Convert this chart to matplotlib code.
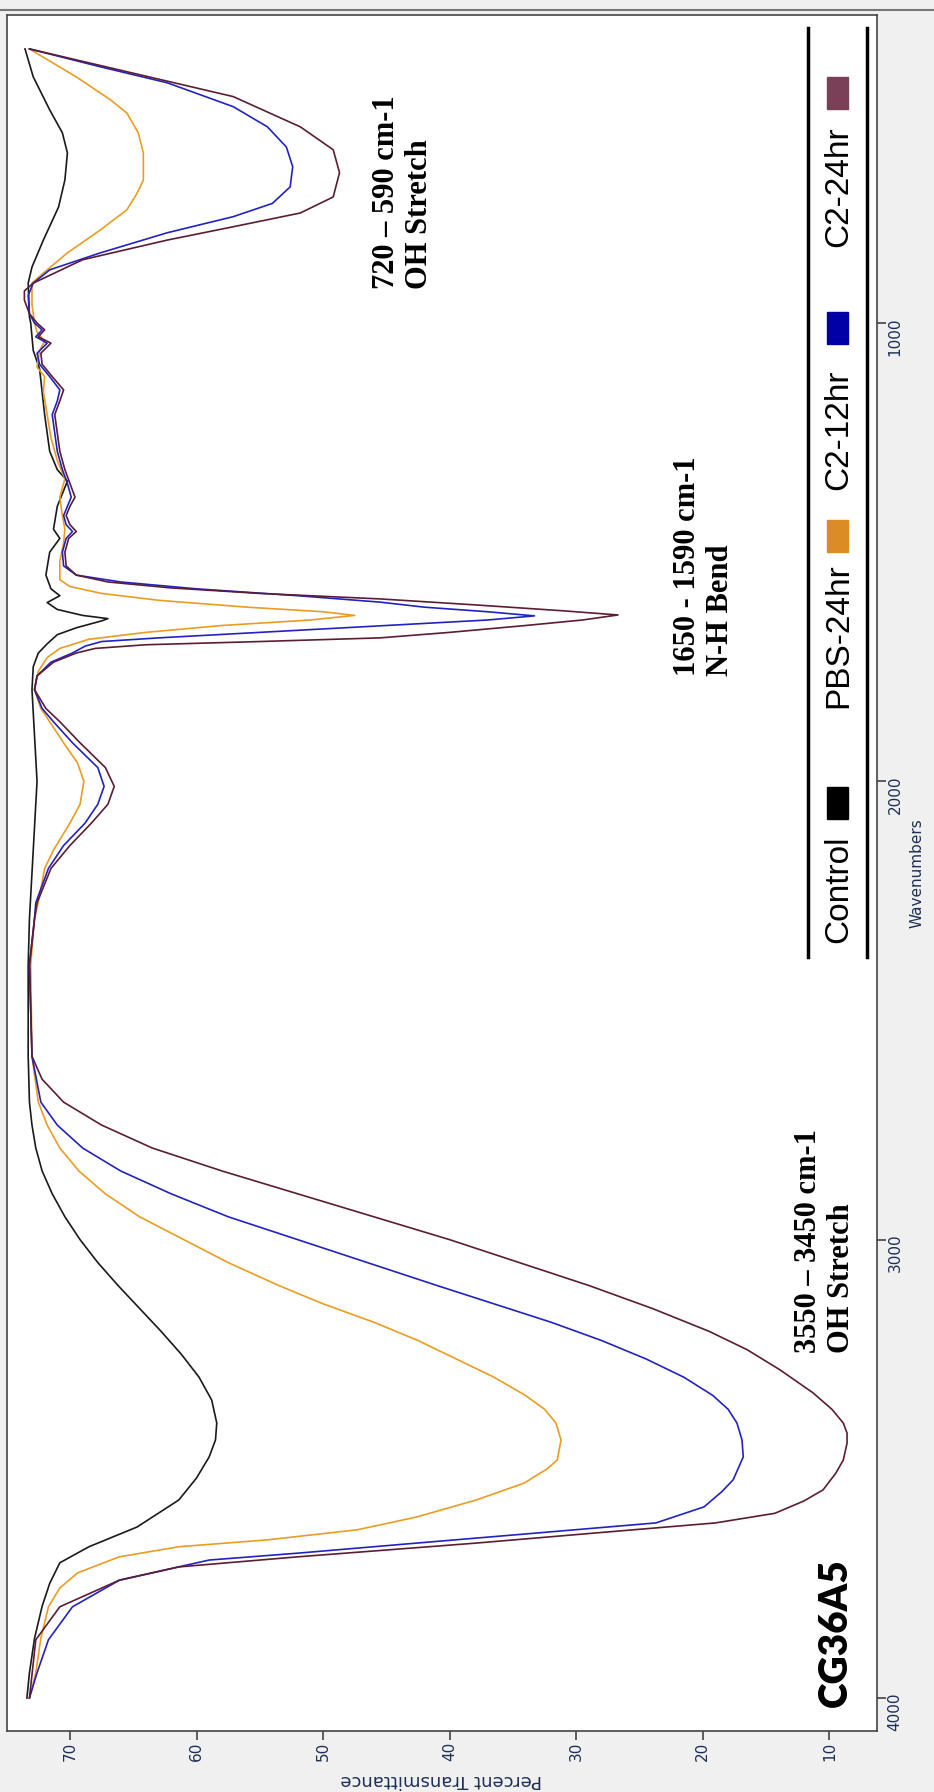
import matplotlib.pyplot as plt
from matplotlib.patches import Rectangle
from matplotlib.lines import Line2D

# Espectros FTIR (numero de onda, % transmitancia)
ctrl_wn = [4000, 3945, 3870, 3800, 3750, 3705, 3670, 3627, 3568, 3520, 3474, 3437, 3400, 3350, 3300,
           3250, 3200, 3150, 3100, 3050, 3000, 2950, 2900, 2850, 2800, 2750, 2700, 2600, 2400, 2300,
           2200, 2100, 2000, 1900, 1800, 1750, 1720, 1700, 1680, 1665, 1650, 1645, 1638, 1625, 1610,
           1595, 1580, 1550, 1500, 1470, 1450, 1400, 1345, 1320, 1280, 1200, 1100, 1060, 1000, 987,
           913, 878, 819, 747, 688, 629, 585, 535, 463, 402]
ctrl_t = [73.4, 73.2, 72.8, 72.2, 71.6, 70.8, 68.5, 64.7, 61.4, 60.0, 59.0, 58.5, 58.4, 58.8, 59.8,
          61.2, 62.8, 64.5, 66.2, 67.8, 69.2, 70.4, 71.4, 72.2, 72.7, 73.0, 73.2, 73.3, 73.3, 73.2,
          73.0, 72.8, 72.6, 72.8, 73.0, 72.9, 72.5, 71.8, 71.0, 69.5, 67.5, 67.0, 69.0, 71.0, 71.8,
          70.8, 71.5, 71.9, 71.6, 70.8, 71.3, 71.0, 70.2, 71.0, 71.6, 72.0, 72.4, 72.9, 73.1, 73.2,
          73.3, 73.0, 72.1, 70.9, 70.4, 70.2, 70.6, 71.6, 72.9, 73.55]

pbs_wn = [4000, 3945, 3870, 3801, 3760, 3727, 3692, 3670, 3655, 3633, 3605, 3568, 3531, 3500, 3481,
          3437, 3400, 3370, 3340, 3300, 3260, 3220, 3180, 3140, 3100, 3050, 3000, 2950, 2900, 2850,
          2800, 2750, 2700, 2600, 2400, 2300, 2250, 2190, 2150, 2091, 2050, 2000, 1960, 1916, 1870,
          1841, 1800, 1760, 1730, 1710, 1690, 1675, 1660, 1648, 1638, 1630, 1620, 1605, 1590, 1575,
          1560, 1520, 1480, 1450, 1420, 1380, 1340, 1300, 1250, 1200, 1150, 1117, 1096, 1060, 1040,
          1020, 1000, 960, 913, 891, 847, 797, 753, 717, 688, 629, 585, 542, 513, 463, 402]
pbs_t = [73.2, 72.7, 72.3, 71.7, 70.8, 69.4, 66.1, 61.4, 54.4, 47.3, 42.6, 37.9, 34.1, 32.3, 31.5,
         31.2, 31.6, 32.5, 34.0, 36.5, 39.5, 42.5, 46.0, 50.0, 53.5, 57.5, 61.0, 64.5, 67.2, 69.3,
         70.8, 71.8, 72.5, 73.0, 73.1, 72.8, 72.4, 72.0, 71.3, 70.0, 69.2, 68.9, 69.4, 70.5, 71.6,
         72.3, 72.8, 72.5, 71.8, 70.8, 68.5, 64.0, 58.0, 51.0, 47.5, 50.0, 56.0, 63.0, 67.5, 70.0,
         70.8, 70.8, 70.5, 70.4, 70.6, 70.8, 70.4, 71.0, 71.5, 71.8, 72.1, 72.0, 72.6, 72.4, 72.0,
         72.6, 72.8, 73.0, 73.0, 72.1, 70.2, 67.6, 65.5, 64.7, 64.2, 64.2, 64.6, 65.5, 66.8, 69.5, 73.2]

c12_wn = [4000, 3945, 3873, 3801, 3743, 3699, 3684, 3662, 3640, 3618, 3583, 3550, 3524, 3474, 3437,
          3400, 3370, 3340, 3300, 3260, 3220, 3180, 3140, 3100, 3050, 3000, 2950, 2900, 2850, 2800,
          2750, 2700, 2600, 2400, 2300, 2265, 2190, 2140, 2091, 2050, 2011, 1970, 1916, 1870, 1841,
          1800, 1770, 1740, 1720, 1705, 1695, 1687, 1675, 1660, 1648, 1639, 1630, 1620, 1609, 1595,
          1580, 1565, 1550, 1530, 1500, 1470, 1455, 1440, 1420, 1400, 1380, 1350, 1320, 1280, 1240,
          1200, 1170, 1146, 1117, 1090, 1066, 1044, 1030, 1015, 1000, 980, 940, 913, 884, 847, 803,
          768, 739, 703, 659, 616, 572, 528, 476, 441, 402]
c12_t = [73.2, 72.6, 71.7, 69.8, 66.1, 59.0, 52.0, 42.6, 33.1, 23.7, 19.9, 18.5, 17.6, 16.8, 16.9,
         17.3, 18.0, 19.2, 21.5, 24.5, 28.0, 32.0, 36.5, 41.0, 46.5, 52.0, 57.5, 62.0, 66.0, 69.0,
         71.0, 72.3, 73.0, 73.2, 72.8, 72.7, 71.7, 70.5, 68.8, 67.8, 67.3, 67.8, 69.8, 71.3, 72.2,
         72.8, 72.6, 71.5, 69.8, 68.8, 67.5, 63.0, 55.0, 45.0, 37.0, 33.3, 37.0, 42.0, 45.5, 52.0,
         60.0, 66.0, 69.5, 70.5, 70.6, 70.3, 69.8, 70.3, 70.5, 70.2, 69.9, 70.2, 70.6, 71.0, 71.2,
         71.4, 71.0, 70.8, 71.6, 72.4, 72.6, 71.8, 72.7, 72.2, 72.8, 73.2, 73.3, 72.9, 71.6, 67.6, 62.3,
         57.1, 54.0, 52.6, 52.4, 52.9, 54.4, 57.1, 62.3, 67.6, 73.2]

c24_wn = [4000, 3873, 3801, 3743, 3714, 3692, 3662, 3640, 3618, 3597, 3570, 3546, 3510, 3481, 3444,
          3422, 3400, 3370, 3334, 3284, 3240, 3200, 3150, 3100, 3050, 3000, 2950, 2900, 2850, 2800,
          2750, 2700, 2650, 2600, 2400, 2300, 2265, 2190, 2140, 2091, 2050, 2011, 1970, 1916, 1870,
          1841, 1800, 1770, 1740, 1720, 1710, 1702, 1695, 1687, 1675, 1660, 1648, 1637, 1628, 1615,
          1602, 1590, 1578, 1565, 1550, 1530, 1500, 1470, 1455, 1440, 1420, 1400, 1380, 1350, 1320,
          1280, 1240, 1200, 1170, 1146, 1117, 1090, 1066, 1044, 1030, 1015, 1000, 980, 950, 930, 913,
          862, 819, 790, 760, 725, 672, 622, 572, 506, 455, 402]
c24_t = [73.2, 72.7, 70.8, 66.1, 61.4, 52.0, 37.9, 28.5, 19.0, 14.3, 12.0, 10.5, 9.5, 8.9, 8.6,
         8.6, 8.9, 9.8, 11.3, 13.9, 16.5, 19.5, 24.0, 29.0, 34.5, 40.0, 46.0, 52.0, 58.0, 63.5,
         67.5, 70.5, 72.2, 73.0, 73.2, 72.8, 72.6, 71.5, 70.0, 68.3, 67.0, 66.5, 67.2, 69.2, 70.8,
         71.9, 72.8, 72.6, 71.3, 69.5, 68.0, 64.0, 55.0, 45.5, 40.0, 34.0, 29.5, 26.7, 31.0, 38.0,
         45.5, 55.0, 62.0, 67.0, 69.5, 70.3, 70.4, 70.1, 69.5, 70.0, 70.3, 70.0, 69.6, 70.0, 70.4,
         70.8, 71.0, 71.2, 70.8, 70.5, 71.4, 72.2, 72.3, 71.5, 72.5, 72.0, 72.6, 73.2, 73.6, 73.6, 72.9,
         69.0, 62.3, 57.1, 51.8, 49.2, 48.7, 49.2, 51.8, 57.1, 65.0, 73.2]

nomes = ['Control', 'PBS-24hr', 'C2-12hr', 'C2-24hr']
cores_linha = ['#1a1a1a', '#eb9c22', '#2222c4', '#5c1c36']
cores_legenda = ['#000000', '#db8c24', '#0000a6', '#7a4058']

W, H = 934, 1792


def fx(px):
    return px / W


def fy(py):
    return 1 - py / H


fig = plt.figure(figsize=(W / 100, H / 100), dpi=100, facecolor='#f0f0f0')
ax = fig.add_axes([fx(7.3), fy(1731), fx(877.3) - fx(7.3), fy(15) - fy(1731)])

# Grafico girado: transmitancia na horizontal, numero de onda na vertical
ax.plot(ctrl_t, ctrl_wn, color=cores_linha[0], lw=1.2)
ax.plot(pbs_t, pbs_wn, color=cores_linha[1], lw=1.2)
ax.plot(c12_t, c12_wn, color=cores_linha[2], lw=1.2)
ax.plot(c24_t, c24_wn, color=cores_linha[3], lw=1.2)

ax.set_xlim(74.95, 6.21)
ax.set_ylim(4072, 328)
ax.set_xticks([70, 60, 50, 40, 30, 20, 10])
ax.set_yticks([4000, 3000, 2000, 1000])
ax.yaxis.tick_right()
for s in ax.spines.values():
    s.set_color('#444444')
    s.set_linewidth(1.2)

ax.tick_params(axis='both', direction='out', length=6.5, width=1.2, color='#444444',
               labelrotation=90, labelsize=11, labelcolor='#1e2f55', pad=1)

fig.text(fx(441), fy(1780), 'Percent Transmittance', rotation=180, ha='center', va='center',
         fontsize=13, color='#1e2f55')
fig.text(fx(917), fy(873), 'Wavenumbers', rotation=90, ha='center', va='center',
         fontsize=11, color='#1e2f55')

# Legenda manual (girada)
fig.add_artist(Line2D([fx(808), fx(808)], [fy(28), fy(957)], color='black', lw=2.5))
fig.add_artist(Line2D([fx(867), fx(867)], [fy(28), fy(957)], color='black', lw=2.5))
inicio_texto = [943, 708, 490, 247]
topo_quadrado = [787, 520, 312, 77]
for nome, cor, y0, yq in zip(nomes, cores_legenda, inicio_texto, topo_quadrado):
    fig.text(fx(839), fy(y0), nome, rotation=90, ha='center', va='bottom',
             fontsize=24, family=['Liberation Sans', 'DejaVu Sans'])
    fig.add_artist(Rectangle((fx(827), fy(yq + 32)), fx(21), 32 / H, color=cor,
                             transform=fig.transFigure))

# Anotacoes
fig.text(fx(825), fy(1353), '3550 \u2013 3450 cm-1\nOH Stretch', rotation=90, ha='center',
         va='bottom', multialignment='left', fontsize=22, fontweight='bold',
         family=['Liberation Serif', 'DejaVu Serif'])
fig.text(fx(704), fy(676), '1650 - 1590 cm-1\nN-H Bend', rotation=90, ha='center',
         va='bottom', multialignment='left', fontsize=22, fontweight='bold',
         family=['Liberation Serif', 'DejaVu Serif'])
fig.text(fx(403), fy(289), '720 \u2013 590 cm-1\nOH Stretch', rotation=90, ha='center',
         va='bottom', multialignment='left', fontsize=22, fontweight='bold',
         family=['Liberation Serif', 'DejaVu Serif'])
fig.text(fx(835), fy(1633), 'CG36A5', rotation=90, ha='center', va='center',
         fontsize=28, fontweight='heavy', family=['Lato', 'DejaVu Sans'])

fig.add_artist(Line2D([0, 1], [fy(10), fy(10)], color='#777777', lw=1.5))

fig.savefig('out.png', dpi=100, facecolor=fig.get_facecolor())
